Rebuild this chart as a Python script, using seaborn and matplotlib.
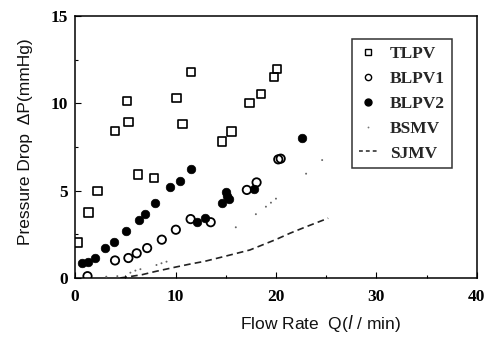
import matplotlib
matplotlib.use("Agg")
import matplotlib.pyplot as plt
from matplotlib.lines import Line2D
from matplotlib.ticker import MultipleLocator
import seaborn as sns

# ---- data ----
tlpv_x = [0.23, 1.33, 2.23, 3.97, 5.17, 5.3, 6.27, 7.83, 10.1, 10.7, 11.57, 14.63, 15.57, 17.37, 18.53, 19.83, 20.07]
tlpv_y = [2.03, 3.75, 4.98, 8.40, 10.15, 8.92, 5.93, 5.74, 10.32, 8.82, 11.79, 7.81, 8.38, 10.0, 10.55, 11.52, 11.96]

blpv1_x = [1.23, 3.97, 5.3, 6.13, 7.17, 8.63, 10.03, 11.5, 13.5, 17.1, 18.07, 20.23, 20.47]
blpv1_y = [0.10, 1.00, 1.14, 1.41, 1.71, 2.19, 2.76, 3.37, 3.19, 5.04, 5.47, 6.79, 6.83]

blpv2_x = [0.73, 1.23, 1.93, 3.0, 3.9, 5.03, 6.4, 6.93, 8.0, 9.43, 10.4, 11.5, 12.1, 12.93, 14.62, 15.0, 15.08, 15.35, 17.8, 22.63]
blpv2_y = [0.86, 0.89, 1.14, 1.71, 2.07, 2.70, 3.31, 3.67, 4.30, 5.19, 5.56, 6.24, 3.20, 3.43, 4.28, 4.90, 4.67, 4.51, 5.08, 8.00]

bsmv_x = [3.1, 4.2, 5.5, 6.0, 6.5, 8.1, 8.6, 9.1, 16.0, 18.0, 19.0, 19.5, 20.0, 23.0, 24.6]
bsmv_y = [0.07, 0.10, 0.30, 0.42, 0.50, 0.74, 0.84, 0.93, 2.90, 3.65, 4.08, 4.31, 4.54, 5.97, 6.75]

sjmv_x = [4.5, 5.5, 6.7, 8.0, 10.0, 11.5, 12.9, 15.0, 17.4, 20.0, 21.4, 23.0, 25.2]
sjmv_y = [0.00, 0.08, 0.19, 0.37, 0.62, 0.80, 0.95, 1.25, 1.60, 2.20, 2.56, 2.93, 3.42]

x_ticks = [0, 10, 20, 30, 40]
y_ticks = [0, 5, 10, 15]
labels = ["TLPV", "BLPV1", "BLPV2", "BSMV", "SJMV"]

sns.set_style("ticks")
plt.rcParams["font.family"] = ["Liberation Serif", "DejaVu Serif"]

fig = plt.figure(figsize=(4.88, 3.41), dpi=100)
ax = fig.add_axes([0.154, 0.185, 0.823, 0.768])

sns.scatterplot(x=tlpv_x, y=tlpv_y, marker="s", s=36, color="none", edgecolor="black",
                linewidth=1.2, ax=ax, zorder=3)
sns.scatterplot(x=blpv1_x, y=blpv1_y, marker="o", s=36, color="none", edgecolor="black",
                linewidth=1.3, ax=ax, zorder=3)
sns.scatterplot(x=blpv2_x, y=blpv2_y, marker="o", s=38, color="black", edgecolor="black",
                linewidth=0.5, ax=ax, zorder=3)
sns.scatterplot(x=bsmv_x, y=bsmv_y, marker="o", s=2, color="#666666", edgecolor="none",
                ax=ax, zorder=3)
sns.lineplot(x=sjmv_x, y=sjmv_y, color="#222222", linestyle=(0, (4, 2.5)), linewidth=1.2,
             ax=ax, zorder=2)

ax.set_xlim(0, 40)
ax.set_ylim(0, 15)
ax.set_xticks(x_ticks)
ax.set_yticks(y_ticks)
ax.xaxis.set_minor_locator(MultipleLocator(5))
ax.yaxis.set_minor_locator(MultipleLocator(2.5))
ax.tick_params(which="both", direction="in", color="black", width=0.8)
ax.tick_params(which="major", length=4)
ax.tick_params(which="minor", length=2.5)
for lab in ax.get_xticklabels() + ax.get_yticklabels():
    lab.set_fontweight("bold")
    lab.set_fontsize(12.5)
    lab.set_color("black")
ax.tick_params(axis="x", pad=8)
ax.tick_params(axis="y", pad=5)

for sp in ax.spines.values():
    sp.set_visible(True)
    sp.set_color("black")
    sp.set_linewidth(1.1)

ax.set_xlabel(r"Flow Rate  Q($\mathit{l}$ / min)", fontsize=12.5,
              family=["Liberation Sans", "DejaVu Sans"], color="#111111")
ax.xaxis.set_label_coords(0.61, -0.135)
ax.set_ylabel("Pressure Drop  \u0394P(mmHg)", fontsize=12.5,
              family=["Liberation Sans", "DejaVu Sans"], color="#111111")
ax.yaxis.set_label_coords(-0.105, 0.52)

handles = [
    Line2D([], [], marker="s", linestyle="none", markersize=4.5, markerfacecolor="none",
           markeredgecolor="black", markeredgewidth=1.0),
    Line2D([], [], marker="o", linestyle="none", markersize=4.5, markerfacecolor="none",
           markeredgecolor="black", markeredgewidth=1.0),
    Line2D([], [], marker="o", linestyle="none", markersize=5, markerfacecolor="black",
           markeredgecolor="black"),
    Line2D([], [], marker="o", linestyle="none", markersize=1.3, markerfacecolor="#777777",
           markeredgecolor="none"),
    Line2D([], [], color="#222222", linestyle=(0, (2.5, 2)), linewidth=1.1),
]
leg = ax.legend(handles, labels, loc="upper left", bbox_to_anchor=(0.689, 0.912),
                borderaxespad=0, frameon=True, fancybox=False, edgecolor="black",
                prop={"family": "Liberation Serif", "weight": "bold", "size": 12.5},
                handlelength=1.1, handletextpad=0.7, labelspacing=0.5,
                borderpad=0.4)
leg.get_frame().set_linewidth(1.1)

fig.savefig("out.png", dpi=100)
